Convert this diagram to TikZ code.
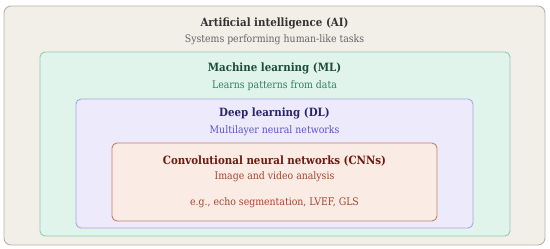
\documentclass[tikz,border=0pt]{standalone}
\usepackage{fontspec}
\setmainfont{DejaVu Serif Condensed}
\definecolor{aifill}{HTML}{F2EFE9}
\definecolor{aidraw}{HTML}{B5B2AB}
\definecolor{aitext}{HTML}{333333}
\definecolor{aisub}{HTML}{666666}
\definecolor{mlfill}{HTML}{E0F4EC}
\definecolor{mldraw}{HTML}{8FCBB3}
\definecolor{mltext}{HTML}{1B4D3A}
\definecolor{mlsub}{HTML}{2E8060}
\definecolor{dlfill}{HTML}{EDEBFB}
\definecolor{dldraw}{HTML}{A8A6E6}
\definecolor{dltext}{HTML}{2A2370}
\definecolor{dlsub}{HTML}{5A52C8}
\definecolor{cnnfill}{HTML}{FAEBE5}
\definecolor{cnndraw}{HTML}{C47E6C}
\definecolor{cnntext}{HTML}{6E1A0E}
\definecolor{cnnsub}{HTML}{A8442E}
\tikzset{
  layer/.style={draw, line width=0.9pt, rounded corners=5pt, inner sep=0pt},
  title/.style={font=\fontsize{11.4}{13}\selectfont\bfseries, inner sep=0pt},
  subtitle/.style={font=\fontsize{10.4}{12}\selectfont, inner sep=0pt},
}

\begin{document}
\begin{tikzpicture}[x=1pt, y=-1pt]
    \useasboundingbox (0,0) rectangle (550,249);
    \node[layer, fill=aifill, draw=aidraw, rounded corners=7pt, minimum width=541pt, minimum height=239pt] (ai) at (274.5, 125.5) {};
    \node[layer, fill=mlfill, draw=mldraw, minimum width=470pt, minimum height=184pt] (ml) at (275, 144) {};
    \node[layer, fill=dlfill, draw=dldraw, minimum width=397pt, minimum height=129pt] (dl) at (274.5, 163.5) {};
    \node[layer, fill=cnnfill, draw=cnndraw, minimum width=325pt, minimum height=78pt] (cnn) at (274.5, 182) {};
    \node[title, aitext] (aititle) at (274.5, 23) {Artificial intelligence (AI)};
    \node[subtitle, aisub] (aisubtitle) at (274.5, 40) {Systems performing human-like tasks};
    \node[title, mltext] (mltitle) at (274.5, 68) {Machine learning (ML)};
    \node[subtitle, mlsub] (mlsubtitle) at (274.5, 86) {Learns patterns from data};
    \node[title, dltext] (dltitle) at (274.5, 113) {Deep learning (DL)};
    \node[subtitle, dlsub] (dlsubtitle) at (274.5, 131) {Multilayer neural networks};
    \node[title, cnntext] (cnntitle) at (274.5, 161) {Convolutional neural networks (CNNs)};
    \node[subtitle, cnnsub] (cnnsubtitle) at (274.5, 177) {Image and video analysis};
    \node[subtitle, cnnsub] (cnnexample) at (274.5, 203) {e.g., echo segmentation, LVEF, GLS};
  \end{tikzpicture}
\end{document}
